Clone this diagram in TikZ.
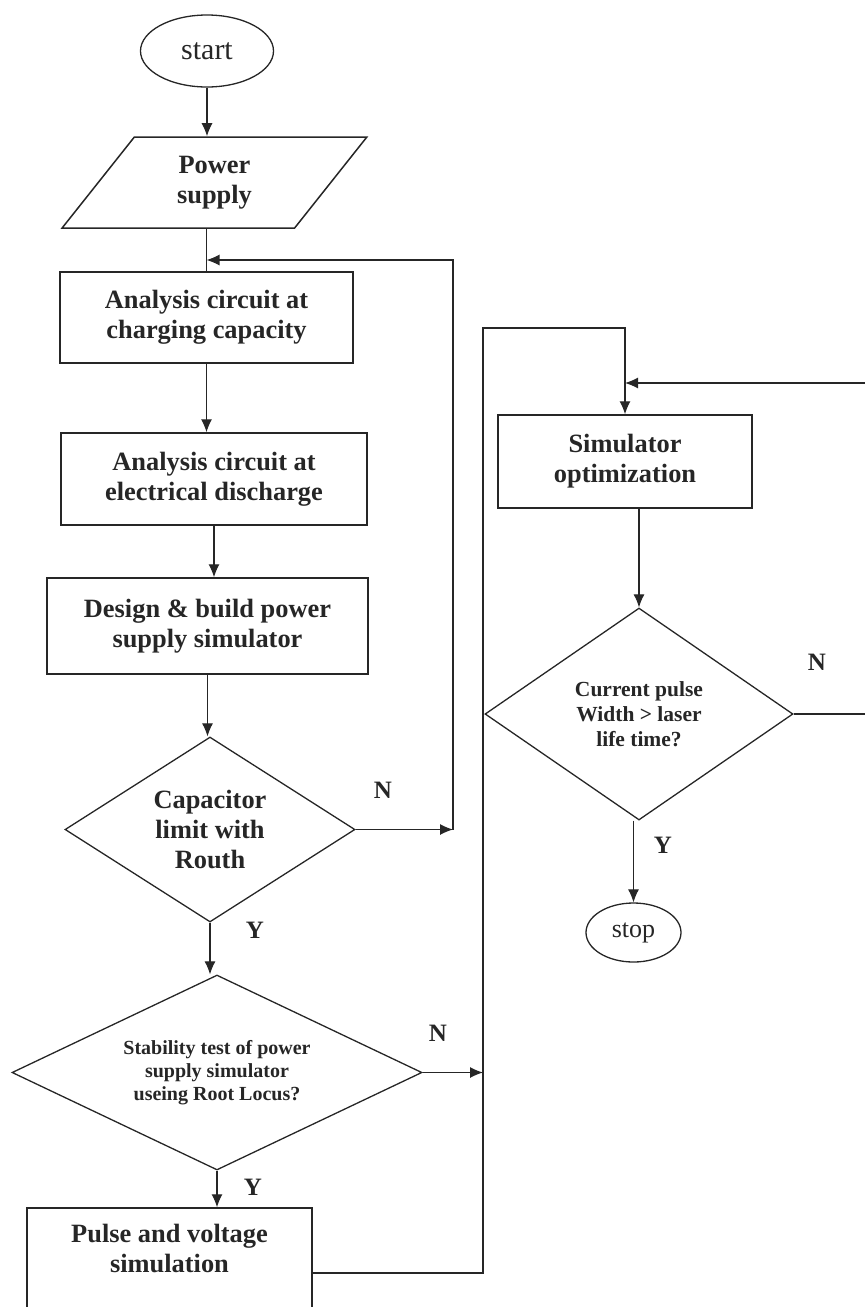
\documentclass[tikz,border=0pt]{standalone}
\usepackage{fontspec}
\setmainfont{Liberation Serif}
\usetikzlibrary{arrows.meta, positioning, calc, shapes.geometric}

\begin{document}
\begin{tikzpicture}[x=1pt, y=-1pt, color=black!85, line width=1.1pt, ->, >={Latex[length=13pt,width=11pt]},
    box/.style={rectangle, draw, line width=1.5pt, inner sep=0pt, align=center, font=\bfseries\fontsize{26.4}{30}\selectfont},
    io/.style={trapezium, trapezium left angle=57.5, trapezium right angle=122.5, trapezium stretches=true, draw, line width=1.5pt, inner sep=0pt, align=center, font=\bfseries\fontsize{26.4}{30}\selectfont},
    decision/.style={diamond, shape aspect=1.6, draw, line width=1.3pt, inner sep=0pt, align=center, font=\bfseries\fontsize{26.4}{30}\selectfont},
    smalltext/.style={font=\bfseries\fontsize{20}{23}\selectfont},
    terminal/.style={ellipse, draw, line width=1.3pt, inner sep=0pt},
    lbl/.style={font=\bfseries\fontsize{25}{30}\selectfont}]
    \useasboundingbox (0,0) rectangle (865,1307);
    % left column
    \node[terminal, minimum width=133pt, minimum height=72pt, font=\fontsize{30}{34}\selectfont] (start) at (207,51) {start};
    \node[io, minimum width=305pt, minimum height=91pt] (power) at (214.5,182.5) {Power\\supply};
    \node[box, minimum width=293pt, minimum height=91pt] (box1) at (206.5,317.5) {Analysis circuit at\\charging capacity};
    \node[box, minimum width=306pt, minimum height=92pt] (box2) at (214,479) {Analysis circuit at\\electrical discharge};
    \node[box, minimum width=321pt, minimum height=96pt] (box3) at (207.5,626) {Design \& build power\\supply simulator};
    \node[decision, minimum width=290pt, minimum height=185pt] (d1) at (210,829.5) {Capacitor\\limit with\\Routh};
    \node[decision, smalltext, shape aspect=2.1, minimum width=410pt, minimum height=195pt] (d2) at (217,1072.5) {Stability test of power\\supply simulator\\useing Root Locus?};
    \node[box, minimum width=285pt, minimum height=130pt, text depth=50pt] (pulse) at (169.5,1273) {Pulse and voltage\\simulation};
    % right column
    \node[box, minimum width=254pt, minimum height=93pt] (sim) at (625,461.5) {Simulator\\optimization};
    \node[decision, font=\bfseries\fontsize{21.5}{25}\selectfont, minimum width=308pt, minimum height=212pt] (d3) at (639,714) {Current pulse\\Width > laser\\life time?};
    \node[terminal, minimum width=95pt, minimum height=59pt, font=\fontsize{26}{30}\selectfont] (stop) at (633.5,932.5) {stop};
    % labels
    \node[lbl] (n1) at (383,790) {N};
    \node[lbl] (y1) at (255,930) {Y};
    \node[lbl] (n2) at (438,1033) {N};
    \node[lbl] (y2) at (253,1187) {Y};
    \node[lbl] (n3) at (817,662) {N};
    \node[lbl] (y3) at (663,845) {Y};
    % joints
    \coordinate (j1) at (206.5,260);
    \coordinate (c1) at (453,829.5);
    \coordinate (c2) at (483,328);
    \coordinate (c3) at (483,1072.5);
    \coordinate (j3) at (625,383);
    % flow
    \draw (start.south) -- (start.south |- power.north);
    \draw[-] (box1.north |- power.south) -- (box1.north);
    \draw (box1.south) -- (box1.south |- box2.north);
    \draw (box2.south) -- (box2.south |- box3.north);
    \draw (box3.south) -- (box3.south |- d1.north);
    \draw (d1.south) -- (d1.south |- d2.north);
    \draw (d2.south) -- (d2.south |- pulse.north);
    \draw (d1.east) -- (c1);
    \draw (c1) |- (j1);
    \draw (d2.east) -- (c3);
    \draw (pulse.east) -| (c2) -| (sim.north);
    \draw (sim.south -| d3.north) -- (d3.north);
    \draw (d3.east) -- ++(80,0) |- (j3);
    \draw (stop.north |- d3.south) -- (stop.north);
\end{tikzpicture}
\end{document}
